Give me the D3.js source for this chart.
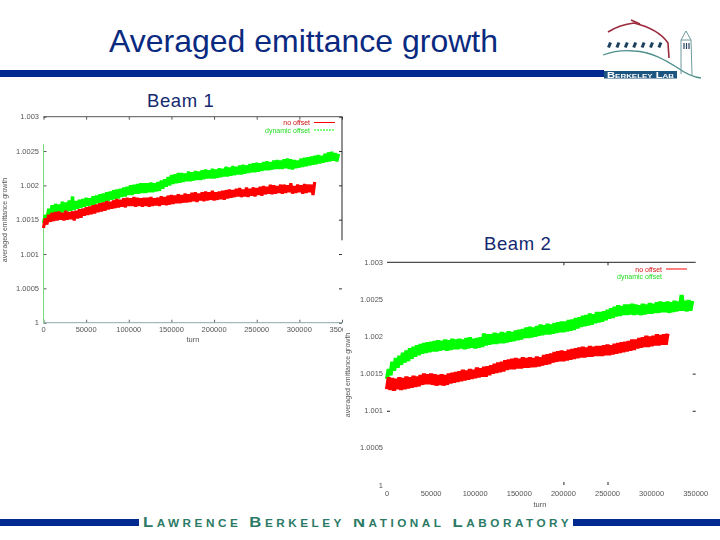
<!DOCTYPE html>
<html>
<head>
<meta charset="utf-8">
<script src="https://cdn.jsdelivr.net/npm/d3@7/dist/d3.min.js"></script>
<style>
html,body{margin:0;padding:0;background:#fff}
svg{display:block}
text{font-family:"Liberation Sans",Arial,sans-serif}
</style>
</head>
<body>
<svg id="c" width="720" height="540"></svg>
<script>
const titleText = "Averaged emittance growth";
const footerText = "Lawrence Berkeley National Laboratory";
const logoText = "Berkeley Lab";
const beamNames = ["Beam 1", "Beam 2"];
const seriesNames = ["no offset", "dynamic offset"];
const axisTitleX = "turn";
const axisTitleY = "averaged emittance growth";
const xTickValues = [0, 50000, 100000, 150000, 200000, 250000, 300000, 350000];
const yTickValues = [1, 1.0005, 1.001, 1.0015, 1.002, 1.0025, 1.003];
const yTickLabels = ["1", "1.0005", "1.001", "1.0015", "1.002", "1.0025", "1.003"];
const turnStep = 2000;
const beam1StartTrace = [1, 1.0026];

const beam1Red = [
1.00138,1.00152,1.00143,1.00157,1.00147,1.00160,1.00148,1.00161,1.00149,1.00162,1.00150,1.00160,1.00149,1.00163,1.00150,1.00161,1.00151,1.00162,1.00149,1.00163,
1.00152,1.00165,1.00153,1.00166,1.00156,1.00168,1.00157,1.00169,1.00158,1.00171,1.00159,1.00172,1.00161,1.00174,1.00162,1.00175,1.00163,1.00177,1.00165,1.00176,
1.00166,1.00178,1.00167,1.00180,1.00168,1.00179,1.00169,1.00181,1.00168,1.00182,1.00170,1.00181,1.00170,1.00183,1.00169,1.00182,1.00170,1.00181,1.00169,1.00182,
1.00170,1.00182,1.00169,1.00183,1.00170,1.00181,1.00171,1.00182,1.00170,1.00184,1.00172,1.00183,1.00171,1.00185,1.00172,1.00186,1.00173,1.00185,1.00174,1.00187,
1.00174,1.00186,1.00175,1.00188,1.00175,1.00187,1.00176,1.00189,1.00177,1.00190,1.00176,1.00188,1.00178,1.00190,1.00177,1.00191,1.00178,1.00190,1.00179,1.00192,
1.00178,1.00190,1.00179,1.00191,1.00180,1.00192,1.00179,1.00193,1.00181,1.00194,1.00182,1.00193,1.00183,1.00195,1.00184,1.00196,1.00183,1.00194,1.00184,1.00197,
1.00183,1.00195,1.00185,1.00197,1.00184,1.00196,1.00186,1.00198,1.00185,1.00199,1.00187,1.00198,1.00188,1.00201,1.00187,1.00200,1.00188,1.00199,1.00189,1.00201,
1.00188,1.00201,1.00189,1.00200,1.00190,1.00203,1.00188,1.00199,1.00189,1.00201,1.00190,1.00200,1.00188,1.00202,1.00189,1.00201,1.00190,1.00201,1.00186,1.00205];
const beam1Green = [
1.00145,1.00157,1.00150,1.00166,1.00155,1.00171,1.00158,1.00173,1.00160,1.00172,1.00159,1.00176,1.00161,1.00175,1.00162,1.00178,1.00163,1.00184,1.00164,1.00177,
1.00166,1.00179,1.00167,1.00180,1.00169,1.00182,1.00170,1.00181,1.00171,1.00184,1.00172,1.00185,1.00174,1.00187,1.00175,1.00188,1.00176,1.00190,1.00177,1.00191,
1.00179,1.00193,1.00180,1.00194,1.00181,1.00195,1.00183,1.00197,1.00184,1.00198,1.00186,1.00200,1.00186,1.00201,1.00188,1.00202,1.00188,1.00203,1.00189,1.00203,
1.00189,1.00203,1.00190,1.00204,1.00190,1.00203,1.00191,1.00205,1.00192,1.00207,1.00195,1.00209,1.00198,1.00212,1.00200,1.00215,1.00202,1.00216,1.00203,1.00218,
1.00204,1.00218,1.00205,1.00217,1.00206,1.00220,1.00206,1.00219,1.00207,1.00221,1.00208,1.00220,1.00208,1.00222,1.00209,1.00223,1.00210,1.00222,1.00210,1.00224,
1.00210,1.00223,1.00211,1.00225,1.00212,1.00224,1.00213,1.00227,1.00213,1.00226,1.00214,1.00228,1.00215,1.00227,1.00216,1.00229,1.00216,1.00230,1.00217,1.00229,
1.00218,1.00231,1.00219,1.00232,1.00219,1.00233,1.00220,1.00232,1.00221,1.00234,1.00222,1.00235,1.00222,1.00234,1.00223,1.00236,1.00224,1.00237,1.00224,1.00236,
1.00224,1.00238,1.00225,1.00239,1.00224,1.00238,1.00223,1.00237,1.00225,1.00236,1.00226,1.00239,1.00227,1.00240,1.00228,1.00241,1.00229,1.00242,1.00230,1.00243,
1.00231,1.00244,1.00232,1.00243,1.00233,1.00246,1.00234,1.00248,1.00235,1.00249,1.00236,1.00247,1.00235,1.00246];
const beam2Red = [
1.00129,1.00145,1.00128,1.00144,1.00127,1.00143,1.00129,1.00145,1.00128,1.00144,1.00129,1.00146,1.00130,1.00145,1.00131,1.00147,1.00132,1.00146,1.00133,1.00148,
1.00135,1.00150,1.00136,1.00149,1.00136,1.00150,1.00135,1.00149,1.00134,1.00148,1.00135,1.00149,1.00134,1.00148,1.00135,1.00150,1.00137,1.00151,1.00138,1.00152,
1.00139,1.00153,1.00140,1.00155,1.00141,1.00154,1.00142,1.00156,1.00143,1.00155,1.00144,1.00158,1.00145,1.00157,1.00146,1.00159,1.00146,1.00160,1.00148,1.00161,
1.00150,1.00163,1.00151,1.00165,1.00152,1.00166,1.00153,1.00168,1.00155,1.00169,1.00156,1.00170,1.00156,1.00171,1.00157,1.00170,1.00157,1.00172,1.00158,1.00171,
1.00158,1.00172,1.00159,1.00171,1.00159,1.00173,1.00160,1.00172,1.00161,1.00175,1.00162,1.00176,1.00163,1.00177,1.00165,1.00179,1.00166,1.00180,1.00167,1.00181,
1.00167,1.00180,1.00168,1.00182,1.00169,1.00183,1.00170,1.00184,1.00171,1.00185,1.00172,1.00186,1.00172,1.00185,1.00173,1.00187,1.00173,1.00186,1.00174,1.00187,
1.00174,1.00187,1.00174,1.00188,1.00175,1.00189,1.00175,1.00188,1.00176,1.00190,1.00177,1.00191,1.00178,1.00192,1.00179,1.00193,1.00180,1.00194,1.00181,1.00196,
1.00182,1.00196,1.00184,1.00198,1.00185,1.00199,1.00186,1.00201,1.00186,1.00200,1.00187,1.00201,1.00188,1.00203,1.00188,1.00202,1.00189,1.00203,1.00189,1.00204];
const beam2Green = [
1.00143,1.00156,1.00148,1.00166,1.00154,1.00171,1.00158,1.00174,1.00162,1.00178,1.00165,1.00181,1.00167,1.00184,1.00170,1.00186,1.00173,1.00188,1.00175,1.00190,
1.00177,1.00191,1.00178,1.00192,1.00179,1.00193,1.00180,1.00194,1.00180,1.00195,1.00181,1.00194,1.00182,1.00196,1.00181,1.00195,1.00182,1.00197,1.00183,1.00196,
1.00183,1.00197,1.00184,1.00196,1.00183,1.00198,1.00184,1.00199,1.00185,1.00197,1.00184,1.00198,1.00185,1.00199,1.00186,1.00204,1.00188,1.00203,1.00189,1.00203,
1.00190,1.00205,1.00190,1.00204,1.00191,1.00206,1.00191,1.00205,1.00192,1.00207,1.00193,1.00206,1.00194,1.00208,1.00195,1.00209,1.00196,1.00210,1.00198,1.00212,
1.00198,1.00213,1.00199,1.00212,1.00200,1.00214,1.00201,1.00216,1.00202,1.00215,1.00203,1.00217,1.00203,1.00216,1.00204,1.00218,1.00205,1.00219,1.00206,1.00220,
1.00206,1.00220,1.00207,1.00222,1.00208,1.00223,1.00209,1.00225,1.00211,1.00226,1.00213,1.00228,1.00214,1.00229,1.00215,1.00231,1.00216,1.00230,1.00218,1.00233,
1.00219,1.00233,1.00220,1.00234,1.00222,1.00236,1.00224,1.00238,1.00225,1.00240,1.00227,1.00242,1.00228,1.00241,1.00229,1.00243,1.00229,1.00243,1.00230,1.00244,
1.00229,1.00243,1.00230,1.00242,1.00229,1.00244,1.00230,1.00243,1.00231,1.00245,1.00231,1.00244,1.00232,1.00246,1.00232,1.00247,1.00233,1.00246,1.00233,1.00247,
1.00232,1.00246,1.00233,1.00248,1.00234,1.00247,1.00235,1.00256,1.00235,1.00248,1.00234,1.00249,1.00235,1.00248];

const RED = "#ff0000", GREEN = "#00ff00", NAVY = "#002a8f", INK = "#14296f", TEXT = "#555";
const svg = d3.select("#c");
const defs = svg.append("defs");
defs.append("filter").attr("id", "soft").attr("x", "-5%").attr("y", "-20%").attr("width", "110%").attr("height", "140%")
  .append("feGaussianBlur").attr("stdDeviation", 0.3);
defs.append("filter").attr("id", "softer").attr("x", "-20%").attr("y", "-20%").attr("width", "140%").attr("height", "140%")
  .append("feGaussianBlur").attr("stdDeviation", 0.5);

svg.append("rect").attr("width", 720).attr("height", 540).attr("fill", "#fff");

/* header */
svg.append("text").attr("x", 109).attr("y", 52).attr("font-size", 32).attr("fill", "#0a2a80").text(titleText);
svg.append("rect").attr("x", 0).attr("y", 70).attr("width", 604).attr("height", 7).attr("fill", NAVY);

/* logo */
const logo = svg.append("g").attr("filter", "url(#soft)");
logo.append("path").attr("d", "M608,32 C616,27 625,24 634,23 C650,27 662,34 668,43 L669,58")
  .attr("fill", "none").attr("stroke", "#9c2a3c").attr("stroke-width", 1.6);
logo.append("path").attr("d", "M631,20 L640,24").attr("stroke", "#9c2a3c").attr("stroke-width", 1.6);
d3.range(7).forEach(i => {
  logo.append("path").attr("d", `M${608.5 + i * 8.4},47.5 L${610.5 + i * 8.4},42.5`)
    .attr("stroke", "#1d3f5c").attr("stroke-width", 3);
});
logo.append("path").attr("d", "M603,55 C614,51 624,50 634,51 C652,52 665,60 678,68 C686,74 692,77 701,78")
  .attr("fill", "none").attr("stroke", "#4f8f8c").attr("stroke-width", 1.3);
logo.append("path").attr("d", "M681,74 L681,40 L686,31 L691,40 L692,75 M681,40 L691,40")
  .attr("fill", "none").attr("stroke", "#6f9a9a").attr("stroke-width", 1);
[684, 686.5, 689].forEach(x => {
  logo.append("path").attr("d", `M${x},43 L${x},49`).attr("stroke", "#27425c").attr("stroke-width", 1.2);
});
logo.append("rect").attr("x", 604).attr("y", 71).attr("width", 73).attr("height", 7.5).attr("fill", "#1f5580");
logo.append("text").attr("x", 607).attr("y", 77.5)
  .attr("font-size", 8.5).attr("font-weight", "bold").attr("fill", "#fff")
  .attr("textLength", 67).attr("lengthAdjust", "spacingAndGlyphs").style("font-variant", "small-caps").text(logoText);

/* footer */
svg.append("rect").attr("x", 0).attr("y", 519).attr("width", 139).attr("height", 7).attr("fill", NAVY);
svg.append("rect").attr("x", 573).attr("y", 519).attr("width", 147).attr("height", 7).attr("fill", NAVY);
svg.append("text").attr("transform", "translate(143,526.5) scale(1.15,1)").attr("font-size", 14.5).attr("font-weight", "bold")
  .attr("fill", "#2c7a66").attr("textLength", 370).attr("lengthAdjust", "spacing")
  .style("font-variant", "small-caps").text(footerText);

function pairs(values) { return values.map((v, i) => [i * turnStep, v]); }

function drawPlot(cfg) {
  const x = d3.scaleLinear().domain([0, 350000]).range(cfg.xr);
  const y = d3.scaleLinear().domain([1, 1.003]).range(cfg.yr);
  const g = svg.append("g");
  const line = d3.line().x(d => x(d[0])).y(d => y(d[1]));
  const tx = g.append("g").attr("filter", "url(#softer)");

  yTickValues.forEach((v, i) => {
    tx.append("text").attr("x", cfg.ylabX).attr("y", y(v) + 2.5).attr("text-anchor", "end")
      .attr("font-size", 7.5).attr("fill", TEXT).text(yTickLabels[i]);
  });
  xTickValues.forEach(v => {
    tx.append("text").attr("x", x(v)).attr("y", cfg.xlabY).attr("text-anchor", "middle")
      .attr("font-size", 7.5).attr("fill", TEXT).text(v);
  });
  tx.append("text").attr("x", cfg.xtitle[0]).attr("y", cfg.xtitle[1]).attr("text-anchor", "middle")
    .attr("font-size", 7.5).attr("fill", TEXT).text(axisTitleX);
  tx.append("text").attr("transform", `translate(${cfg.ytitle[0]},${cfg.ytitle[1]}) rotate(-90)`)
    .attr("text-anchor", "middle").attr("font-size", 7).attr("fill", TEXT).text(axisTitleY);
  tx.append("text").attr("x", cfg.leg[0]).attr("y", cfg.leg[1]).attr("text-anchor", "end")
    .attr("font-size", 7).attr("fill", "#cc1111").text(seriesNames[0]);
  tx.append("text").attr("x", cfg.leg[0]).attr("y", cfg.leg[1] + 7.5).attr("text-anchor", "end")
    .attr("font-size", 7).attr("fill", "#22dd22").text(seriesNames[1]);

  g.append("path").attr("d", `M${cfg.leg[0] + 4},${cfg.leg[1] - 2.5}h21`).attr("stroke", RED).attr("stroke-width", 1);
  if (cfg.greenKey) {
    g.append("path").attr("d", `M${cfg.leg[0] + 4},${cfg.leg[1] + 5}h21`).attr("stroke", GREEN)
      .attr("stroke-width", 1).attr("stroke-dasharray", "2 1");
  }

  const axes = g.append("g");
  const styleAxis = (a, col) => {
    a.select(".domain").remove();
    a.selectAll("text").remove();
    a.selectAll("line").attr("stroke", col).attr("stroke-width", 1);
  };
  cfg.axes(axes, x, y, styleAxis);

  [[cfg.green, GREEN], [cfg.red, RED]].forEach(([vals, col]) => {
    g.append("path").datum(pairs(vals)).attr("d", line).attr("fill", "none")
      .attr("stroke", col).attr("stroke-width", cfg.sw)
      .attr("stroke-linejoin", "bevel").attr("filter", "url(#soft)");
  });
  return { x, y, g };
}

/* Beam 1 */
drawPlot({
  xr: [43.5, 342], yr: [322.7, 116.7], ylabX: 39, xlabY: 332, xtitle: [193, 342], ytitle: [7, 220],
  leg: [310, 125], greenKey: true, green: beam1Green, red: beam1Red, sw: 3.2,
  axes(a, x, y, st) {
    const b = d3.axisBottom(x).tickValues(xTickValues).tickSize(-3).tickFormat("");
    a.append("g").attr("transform", `translate(0,${y(1)})`).call(b).call(s => st(s, "#666"));
    a.append("g").attr("transform", `translate(0,${y(1.003)})`).call(d3.axisTop(x).tickValues(xTickValues).tickSize(-3).tickFormat("")).call(s => st(s, "#555"));
    a.append("g").attr("transform", `translate(${x(0)},0)`).call(d3.axisLeft(y).tickValues(yTickValues).tickSize(-3).tickFormat("")).call(s => st(s, "#555"));
    a.append("g").attr("transform", `translate(${x(350000)},0)`).call(d3.axisRight(y).tickValues(yTickValues).tickSize(-3).tickFormat("")).call(s => st(s, "#333"));
    a.append("path").attr("d", `M${x(0)},${y(1.003)}H${x(350000)}`).attr("stroke", "#555").attr("stroke-width", 1);
    a.append("path").attr("d", `M${x(0)},${y(1)}H${x(350000)}`).attr("stroke", "#8aa").attr("stroke-width", 1);
    a.append("path").attr("d", `M${x(350000)},${y(1.003)}V${y(1.0012)}`).attr("stroke", "#222").attr("stroke-width", 1);
    a.append("path").attr("d", `M${x(0)},${y(beam1StartTrace[0])}V${y(beam1StartTrace[1])}`).attr("stroke", "#77dd77").attr("stroke-width", 1);
  }
});
svg.append("text").attr("x", 147).attr("y", 107).attr("font-size", 18.5).attr("letter-spacing", 0.6).attr("fill", INK).text(beamNames[0]);

/* white panel of the second plot, laid over the first */
svg.append("rect").attr("x", 343).attr("y", 240).attr("width", 377).attr("height", 279).attr("fill", "#fff");

/* Beam 2 */
drawPlot({
  xr: [387, 695.7], yr: [485, 262.3], ylabX: 383, xlabY: 496, xtitle: [540, 507], ytitle: [350, 375],
  leg: [662, 271.5], greenKey: false, green: beam2Green, red: beam2Red, sw: 4.2,
  axes(a, x, y, st) {
    const partX = [200000, 250000];
    a.append("path").attr("d", `M${x(0)},${y(1.003)}H${x(350000)}`).attr("stroke", "#222").attr("stroke-width", 1);
    a.append("g").attr("transform", `translate(0,${y(1.003)})`).call(d3.axisTop(x).tickValues(partX).tickSize(-3).tickFormat("")).call(s => st(s, "#222"));
    a.append("g").attr("transform", `translate(0,${y(1)})`).call(d3.axisBottom(x).tickValues(partX).tickSize(-3).tickFormat("")).call(s => st(s, "#222"));
    a.append("g").attr("transform", `translate(${x(350000)},0)`).call(d3.axisRight(y).tickValues([1.001, 1.0015]).tickSize(-3).tickFormat("")).call(s => st(s, "#222"));
    a.append("g").attr("transform", `translate(${x(0)},0)`).call(d3.axisLeft(y).tickValues([1.001]).tickSize(-3).tickFormat("")).call(s => st(s, "#222"));
  }
});
svg.append("text").attr("x", 484).attr("y", 250).attr("font-size", 18.5).attr("letter-spacing", 0.6).attr("fill", INK).text(beamNames[1]);
</script>
</body>
</html>
